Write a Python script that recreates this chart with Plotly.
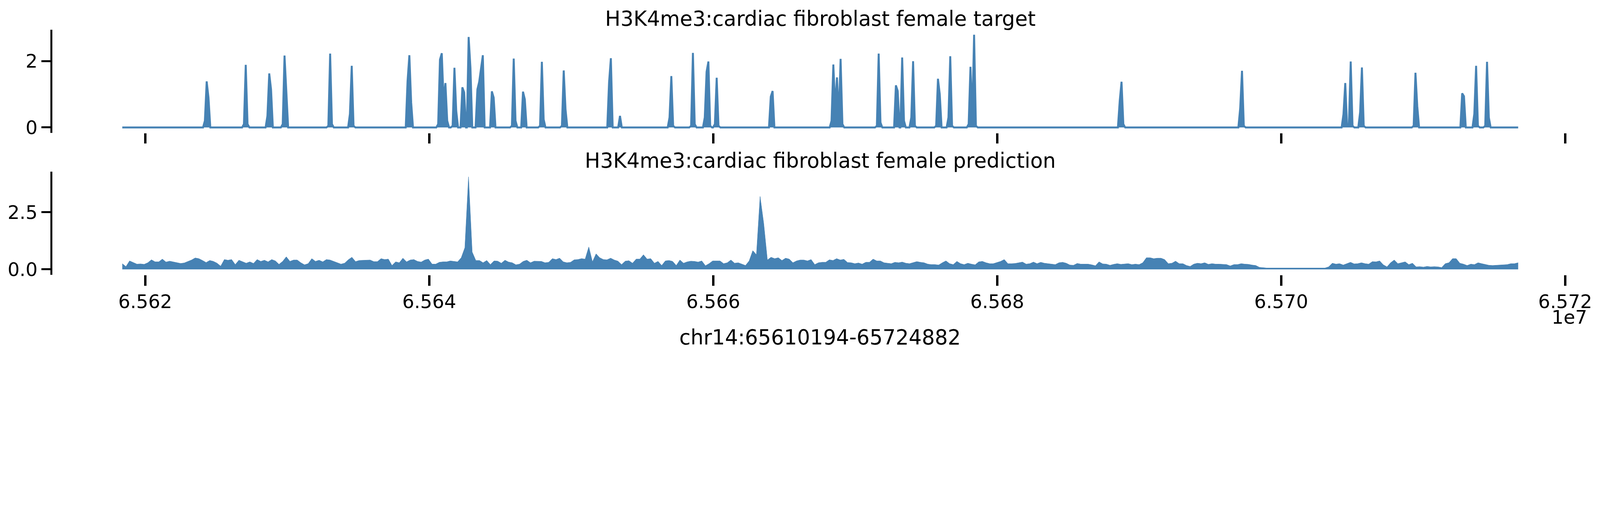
import plotly.graph_objects as go

# region shown (output window of the model), bp
region_start = 65618386
region_end = 65716690
bin_size = 128

# target track: runs of non-zero 128bp bins (start bp, values)
target_start = [
    65624201, 65626952, 65628606, 65629683, 65632896, 65634416, 65638475,
    65640630, 65641649, 65642335, 65642778, 65643393, 65644413, 65645824,
    65646606, 65647806, 65649345, 65652666, 65653436, 65656924, 65658444,
    65659406, 65660118, 65664055, 65668333, 65671526, 65672866, 65673309,
    65673950, 65675701, 65676567, 65677990, 65688629, 65697113, 65704385,
    65705558, 65709329, 65712746, 65713600, 65714369,
]
target_vals = [
    [0.2, 1.39, 0.9], [0.1, 1.89, 0.1], [0.35, 1.63, 1.15], [0.1, 2.17, 0.93],
    [0.05, 2.23, 0.1], [0.41, 1.86, 0.05], [1.4, 2.18, 0.75],
    [0.1, 2.05, 2.24, 0.8, 1.34, 0.2], [0.05, 1.80, 0.5], [1.21, 1.06],
    [2.73, 1.80], [1.15, 1.38, 1.75, 2.18], [1.09, 0.90], [0.05, 2.08, 0.2],
    [1.08, 0.85], [0.05, 1.98, 0.24], [0.05, 1.72, 0.55], [1.36, 2.09],
    [0.35], [0.3, 1.55, 0.05], [0.05, 2.25, 0.1],
    [0.3, 1.68, 1.99, 0.05], [0.1, 1.50, 0.05], [0.93, 1.10],
    [0.2, 1.90, 0.6, 1.51, 0.3, 2.07, 0.1], [0.05, 2.23, 0.15], [1.27, 1.1],
    [2.11, 0.2], [0.3, 2.0, 0.05], [0.05, 1.47, 1.0], [0.3, 2.15, 0.05],
    [0.1, 1.83, 0.35, 2.80, 0.05], [0.8, 1.38, 0.1], [0.58, 1.71, 0.05],
    [0.4, 1.34, 0.05, 0.1, 1.99, 0.05], [0.46, 1.81, 0.05], [0.05, 1.65, 0.64],
    [1.03, 0.94], [0.41, 1.86, 0.05], [0.05, 1.98, 0.3],
]

# prediction track, evenly spaced across the region
pred_vals = [
    0.25, 0.12, 0.37, 0.30, 0.23, 0.24, 0.22, 0.29, 0.42, 0.33,
    0.33, 0.45, 0.32, 0.36, 0.33, 0.29, 0.26, 0.28, 0.34, 0.41,
    0.50, 0.47, 0.39, 0.30, 0.39, 0.35, 0.27, 0.14, 0.43, 0.40,
    0.43, 0.21, 0.40, 0.33, 0.27, 0.33, 0.26, 0.43, 0.35, 0.40,
    0.33, 0.43, 0.37, 0.22, 0.35, 0.55, 0.35, 0.41, 0.41, 0.29,
    0.20, 0.25, 0.47, 0.35, 0.40, 0.33, 0.43, 0.41, 0.35, 0.29,
    0.23, 0.27, 0.42, 0.53, 0.34, 0.39, 0.40, 0.40, 0.41, 0.34,
    0.34, 0.47, 0.43, 0.45, 0.17, 0.33, 0.29, 0.49, 0.33, 0.41,
    0.43, 0.35, 0.32, 0.41, 0.45, 0.23, 0.23, 0.31, 0.33, 0.33,
    0.37, 0.35, 0.33, 0.51, 0.95, 4.05, 0.76, 0.39, 0.39, 0.29,
    0.39, 0.21, 0.37, 0.36, 0.27, 0.40, 0.32, 0.29, 0.20, 0.23,
    0.35, 0.40, 0.29, 0.36, 0.35, 0.35, 0.29, 0.31, 0.47, 0.43,
    0.49, 0.33, 0.29, 0.31, 0.42, 0.43, 0.47, 0.45,
    0.98, 0.33, 0.68, 0.51, 0.43, 0.42, 0.49, 0.41, 0.36, 0.21,
    0.36, 0.38, 0.27, 0.45, 0.45, 0.64, 0.45, 0.47, 0.27, 0.35,
    0.17, 0.37, 0.39, 0.35, 0.17, 0.41, 0.27, 0.33, 0.36, 0.35,
    0.32, 0.37, 0.16, 0.25, 0.37, 0.37, 0.37, 0.25, 0.29, 0.41,
    0.27, 0.29, 0.23, 0.17, 0.37, 0.82, 0.64, 3.19, 2.00, 0.41,
    0.53, 0.47, 0.51, 0.39, 0.49, 0.45, 0.29, 0.37, 0.41, 0.41,
    0.37, 0.43, 0.21, 0.29, 0.31, 0.31, 0.42, 0.39, 0.47, 0.41,
    0.44, 0.30, 0.29, 0.25, 0.28, 0.23, 0.31, 0.31, 0.45, 0.37,
    0.37, 0.29, 0.27, 0.25, 0.31, 0.29, 0.32, 0.27, 0.25, 0.30,
    0.34, 0.31, 0.29, 0.23, 0.21, 0.21, 0.19, 0.29, 0.37, 0.25,
    0.21, 0.35, 0.25, 0.21, 0.27, 0.23, 0.20, 0.33, 0.35, 0.29,
    0.25, 0.25, 0.30, 0.35, 0.43, 0.25, 0.25, 0.26, 0.29, 0.32,
    0.23, 0.25, 0.32, 0.25, 0.31, 0.27, 0.25, 0.23,
    0.21, 0.29, 0.31, 0.27, 0.19, 0.18, 0.26, 0.23, 0.23, 0.23,
    0.20, 0.16, 0.33, 0.24, 0.23, 0.18, 0.22, 0.25, 0.22, 0.23,
    0.25, 0.21, 0.23, 0.21, 0.29, 0.51, 0.51, 0.47, 0.49, 0.49,
    0.43, 0.25, 0.27, 0.36, 0.25, 0.25, 0.17, 0.13, 0.23, 0.27,
    0.25, 0.29, 0.22, 0.25, 0.23, 0.23, 0.22, 0.21, 0.15, 0.21,
    0.21, 0.25, 0.23, 0.22, 0.19, 0.17, 0.09, 0.07, 0.06, 0.06,
    0.06, 0.06, 0.06, 0.06, 0.06, 0.07, 0.06, 0.06, 0.06, 0.06,
    0.06, 0.07, 0.06, 0.06, 0.06, 0.11, 0.27, 0.23, 0.25, 0.19,
    0.25, 0.31, 0.24, 0.25, 0.29, 0.25, 0.23, 0.34, 0.33, 0.37,
    0.20, 0.11, 0.29, 0.41, 0.25, 0.29, 0.33, 0.21, 0.27, 0.11,
    0.12, 0.10, 0.13, 0.11, 0.12, 0.11, 0.08, 0.25, 0.29, 0.47,
    0.47, 0.27, 0.23, 0.17, 0.23, 0.21, 0.29, 0.25, 0.21, 0.18,
    0.17, 0.18, 0.19, 0.21, 0.21, 0.25, 0.25, 0.29,
]

x_ticks = [65620000, 65640000, 65660000, 65680000, 65700000, 65720000]
x_ticklabels = ["6.562", "6.564", "6.566", "6.568", "6.570", "6.572"]
top_title = "H3K4me3:cardiac fibroblast female target"
bottom_title = "H3K4me3:cardiac fibroblast female prediction"
region_label = "chr14:65610194-65724882"

# expand the sparse target runs into a line with zeros in between
tx, ty = [region_start], [0]
for start, vals in zip(target_start, target_vals):
    tx.append(start - bin_size)
    ty.append(0)
    for j, v in enumerate(vals):
        tx.append(start + bin_size * j)
        ty.append(v)
    tx.append(start + bin_size * len(vals))
    ty.append(0)
tx.append(region_end)
ty.append(0)

step = (region_end - region_start) / (len(pred_vals) - 1)
px = [region_start + step * k for k in range(len(pred_vals))]

# the page is shown at ~1.43 device px per css px, so size everything in css px
S = 4096 / 5857
body = 8  # default page margin around the plot div

color = "#4682b4"
font = "DejaVu Sans"
tick_size = 69 * S
title_size = 75 * S

fig = go.Figure()
fig.add_trace(go.Scatter(
    x=tx, y=ty, mode="lines", fill="tozeroy", fillcolor=color,
    line=dict(color=color, width=7 * S), xaxis="x", yaxis="y", hoverinfo="none",
))
fig.add_trace(go.Scatter(
    x=px, y=pred_vals, mode="lines", fill="tozeroy", fillcolor=color,
    line=dict(color=color, width=1), xaxis="x2", yaxis="y2", hoverinfo="none",
))

xrange = [65613460, 65721600]
xcommon = dict(
    range=xrange, tickvals=x_ticks, ticks="outside", ticklen=38 * S,
    tickwidth=8 * S, tickcolor="black", showline=False, showgrid=False,
    zeroline=False, tickfont=dict(family=font, size=tick_size, color="black"),
)
ycommon = dict(
    ticks="outside", ticklen=33 * S, tickwidth=7.5 * S, tickcolor="black",
    showline=True, linewidth=7.5 * S, linecolor="black", showgrid=False,
    zeroline=False, tickfont=dict(family=font, size=tick_size, color="black"),
)

fig.update_layout(
    width=5857 * S - body, height=1307 * S - body,
    margin=dict(l=191 * S - body, r=45 * S, t=108 * S - body, b=302 * S,
                autoexpand=False),
    plot_bgcolor="white", paper_bgcolor="white", showlegend=False,
    xaxis=dict(domain=[0, 1], anchor="y", showticklabels=False, **xcommon),
    yaxis=dict(domain=[0.5797, 1], anchor="x", range=[-0.16, 2.95],
               tickvals=[0, 2], ticktext=["0", "2"], **ycommon),
    xaxis2=dict(domain=[0, 1], anchor="y2", ticktext=x_ticklabels, **xcommon),
    yaxis2=dict(domain=[0, 0.4203], anchor="x2", range=[-0.24, 4.27],
                tickvals=[0, 2.5], ticktext=["0.0", "2.5"], **ycommon),
)

ann_font = dict(family=font, size=title_size, color="black")
fig.add_annotation(text=top_title, xref="paper", yref="paper", x=0.5, y=1,
                   xanchor="center", yanchor="bottom", yshift=-4,
                   showarrow=False, font=ann_font)
fig.add_annotation(text=bottom_title, xref="paper", yref="paper", x=0.5, y=0.4203,
                   xanchor="center", yanchor="bottom", yshift=-4,
                   showarrow=False, font=ann_font)
fig.add_annotation(text=region_label, xref="paper", yref="paper", x=0.5, y=-0.3066,
                   xanchor="center", yanchor="bottom", showarrow=False, font=ann_font)
fig.add_annotation(text="1e7", xref="paper", yref="paper", x=1, y=-0.2207,
                   xanchor="right", yanchor="bottom", showarrow=False,
                   font=dict(family=font, size=tick_size, color="black"))

fig.write_html("out.html")
